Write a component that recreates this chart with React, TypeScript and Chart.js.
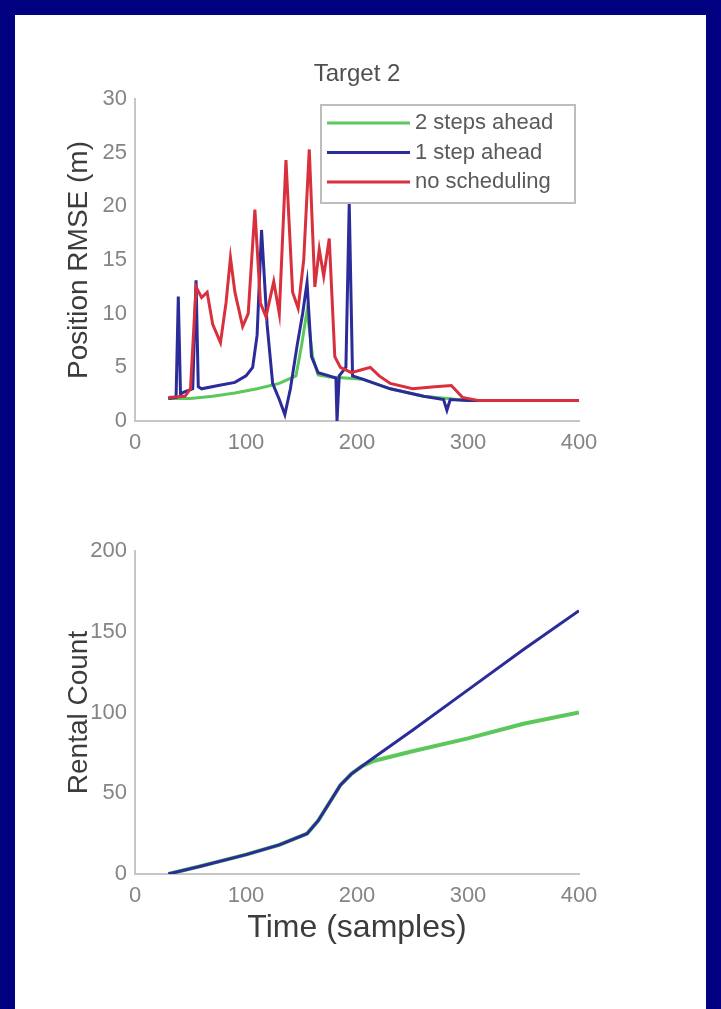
import React, { useEffect, useRef } from "react";
import { Chart, registerables } from "chart.js";

Chart.register(...registerables);

const FONT = "'Liberation Sans', Arial, sans-serif";

const seriesLabels = ["2 steps ahead", "1 step ahead", "no scheduling"];
const seriesColors = ["#5cc85c", "#2b2b9a", "#d8303c"];

const xTickValues = [0, 100, 200, 300, 400];
const rmseTicks = [0, 5, 10, 15, 20, 25, 30];
const countTicks = [0, 50, 100, 150, 200];

// Top panel: position RMSE (m)
const greenT = [30, 50, 70, 90, 110, 130, 145, 150, 155, 160, 165, 175, 190, 205, 230, 260, 300, 400];
const greenV = [2.1, 2.1, 2.3, 2.6, 3.0, 3.5, 4.2, 7, 10.3, 6, 4.3, 4.1, 4.0, 3.9, 3.0, 2.3, 1.9, 1.9];

const blueT = [30, 37, 39, 41, 44, 52, 55, 57, 60, 75, 90, 100, 106, 110, 114, 119, 124, 130, 135, 140, 146, 151, 155, 159, 165, 175, 181, 182, 184, 190, 193, 196, 205, 230, 260, 278, 281, 284, 300, 400];
const blueV = [2.1, 2.2, 11.6, 2.5, 2.7, 3, 13.1, 3.2, 3.0, 3.3, 3.6, 4.2, 5, 8, 17.8, 9, 3.5, 2, 0.6, 3, 7, 10, 12.9, 6, 4.5, 4.2, 4.0, 0, 4.2, 5, 20.3, 4.2, 3.9, 3, 2.3, 2.0, 1.0, 2.0, 1.9, 1.9];

const redT = [30, 45, 50, 55, 60, 65, 70, 77, 82, 86, 90, 97, 102, 108, 113, 118, 125, 130, 136, 142, 147, 152, 157, 162, 166, 170, 175, 180, 185, 195, 205, 212, 220, 230, 250, 270, 285, 295, 310, 400];
const redV = [2.2, 2.3, 3, 12.5, 11.5, 12, 9, 7.3, 11, 15.2, 12, 8.8, 10, 19.7, 11, 9.7, 13, 10, 24.3, 12, 10.5, 15, 25.3, 12.5, 16, 13.5, 17, 6, 5, 4.5, 4.8, 5, 4.2, 3.5, 3.0, 3.2, 3.3, 2.2, 1.9, 1.9];

// Bottom panel: count
const countT = [30, 60, 100, 130, 155, 165, 175, 185, 195, 205, 215, 250, 300, 350, 400];
const countGreen = [0, 5, 12, 18, 25, 33, 44, 55, 62, 67, 70, 76, 84, 93, 100];
const countBlue = [0, 5, 12, 18, 25, 33, 44, 55, 62, 67, 72, 89, 114, 139, 163];

const toXY = (t: number[], v: number[]) => t.map((x, i) => ({ x, y: v[i] }));

const TICK_COLOR = "#858585";
const TITLE_COLOR = "#505050";
const AXIS_COLOR = "#c6c6c6";

const legendPlugin = {
  id: "boxLegend",
  afterDatasetsDraw(chart: any) {
    const { ctx, chartArea } = chart;
    const w = 254;
    const h = 98;
    const right = chartArea.right - 4;
    const left = right - w;
    const top = chartArea.top + 6;
    ctx.save();
    ctx.fillStyle = "#ffffff";
    ctx.fillRect(left, top, w, h);
    ctx.strokeStyle = "#bdbdbd";
    ctx.lineWidth = 2;
    ctx.strokeRect(left, top, w, h);
    chart.data.datasets.forEach((ds: any, i: number) => {
      const y = top + 18 + i * 29.5;
      ctx.strokeStyle = ds.borderColor;
      ctx.lineWidth = 3;
      ctx.beginPath();
      ctx.moveTo(left + 6, y);
      ctx.lineTo(left + 89, y);
      ctx.stroke();
      ctx.fillStyle = "#5a5a5a";
      ctx.font = `22px ${FONT}`;
      ctx.textBaseline = "middle";
      ctx.textAlign = "left";
      ctx.fillText(ds.label, left + 94, y);
    });
    ctx.restore();
  },
};

function xScale(withTitle: boolean, height: number) {
  return {
    type: "linear" as const,
    min: 0,
    max: 400,
    afterBuildTicks: (s: any) => {
      s.ticks = xTickValues.map((v) => ({ value: v }));
    },
    ticks: { color: TICK_COLOR, font: { family: FONT, size: 22 }, padding: 9, maxRotation: 0 },
    grid: { display: false, drawTicks: false },
    border: { display: true, color: AXIS_COLOR, width: 2 },
    title: {
      display: withTitle,
      text: "Time (samples)",
      color: "#3c3c3c",
      font: { family: FONT, size: 32 },
      padding: { top: 4, bottom: 4 },
    },
    afterFit: (s: any) => {
      s.height = height;
    },
  };
}

function yScale(title: string, ticks: number[], width: number) {
  return {
    type: "linear" as const,
    min: ticks[0],
    max: ticks[ticks.length - 1],
    afterBuildTicks: (s: any) => {
      s.ticks = ticks.map((v) => ({ value: v }));
    },
    ticks: { color: TICK_COLOR, font: { family: FONT, size: 22 }, padding: 8 },
    grid: { display: false, drawTicks: false },
    border: { display: true, color: AXIS_COLOR, width: 2 },
    title: {
      display: true,
      text: title,
      color: "#3c3c3c",
      font: { family: FONT, size: 28 },
      padding: { top: 6, bottom: 4 },
    },
    afterFit: (s: any) => {
      s.width = width;
    },
  };
}

function line(label: string, color: string, data: any[], order: number, width = 3) {
  return {
    label,
    data,
    borderColor: color,
    backgroundColor: color,
    borderWidth: width,
    pointRadius: 0,
    tension: 0,
    order,
  };
}

export default function App() {
  const topRef = useRef<HTMLCanvasElement>(null);
  const botRef = useRef<HTMLCanvasElement>(null);

  useEffect(() => {
    const top = new Chart(topRef.current!, {
      type: "line",
      data: {
        datasets: [
          line(seriesLabels[0], seriesColors[0], toXY(greenT, greenV), 2),
          line(seriesLabels[1], seriesColors[1], toXY(blueT, blueV), 1),
          line(seriesLabels[2], seriesColors[2], toXY(redT, redV), 0),
        ],
      },
      options: {
        animation: false,
        responsive: false,
        layout: { padding: { left: 56, right: 142, top: 41.6, bottom: 19 } },
        plugins: {
          legend: { display: false },
          tooltip: { enabled: false },
          title: {
            display: true,
            text: "Target 2",
            color: TITLE_COLOR,
            fullSize: false,
            font: { family: FONT, size: 24, weight: "normal" },
            padding: { top: 18, bottom: 10.6 },
          },
        },
        scales: {
          x: xScale(false, 40),
          y: yScale("Position RMSE (m)", rmseTicks, 79),
        },
      },
      plugins: [legendPlugin],
    });

    const bot = new Chart(botRef.current!, {
      type: "line",
      data: {
        datasets: [
          line(seriesLabels[0], seriesColors[0], toXY(countT, countGreen), 2, 4),
          line(seriesLabels[1], seriesColors[1], toXY(countT, countBlue), 1, 3),
        ],
      },
      options: {
        animation: false,
        responsive: false,
        layout: { padding: { left: 56, right: 142, top: 71, bottom: 58 } },
        plugins: { legend: { display: false }, tooltip: { enabled: false } },
        scales: {
          x: xScale(true, 77),
          y: yScale("Rental Count", countTicks, 79),
        },
      },
    });

    return () => {
      top.destroy();
      bot.destroy();
    };
  }, []);

  return (
    <div style={{ position: "fixed", left: 0, top: 0, width: 721, height: 1009, background: "#000080", overflow: "hidden" }}>
      <div style={{ position: "absolute", left: 15, top: 15, width: 691, height: 994, background: "#ffffff" }} />
      <canvas ref={topRef} width={721} height={480} style={{ position: "absolute", left: 0, top: 0, width: 721, height: 480 }} />
      <canvas ref={botRef} width={721} height={529} style={{ position: "absolute", left: 0, top: 480, width: 721, height: 529 }} />
    </div>
  );
}
